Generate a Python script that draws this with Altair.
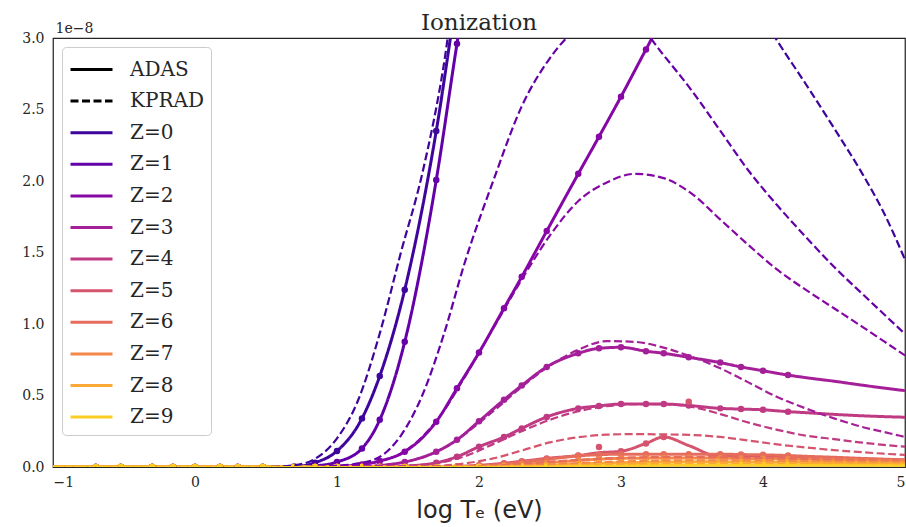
import altair as alt
import pandas as pd

# ---------------- data ----------------
Z_LABELS = ["Z=%d" % i for i in range(10)]
Z_COLORS = ["#3e049c", "#6400a7", "#8606a6", "#a51f99", "#c03a83",
            "#d5546e", "#e66c5c", "#f48849", "#fca835", "#fccd25"]

# ADAS grid points, log10 Te (eV)
ADAS_X = [-0.699, -0.523, -0.301, -0.155, 0.0, 0.176, 0.301, 0.477, 0.699, 0.845,
          1.0, 1.176, 1.301, 1.477, 1.699, 1.845, 2.0, 2.176, 2.301, 2.477,
          2.699, 2.845, 3.0, 3.176, 3.301, 3.477, 3.699, 3.845, 4.0, 4.176]
ADAS_START_X = -1.0
ADAS_TAIL_X = [4.3, 4.5, 4.7, 5.0]

# ionization rate coefficient, units of 1e-8
ADAS_Y = {
    0: [0]*8 + [0.003, 0.03, 0.112, 0.34, 0.636, 1.24, 2.35, 3.3, 4.2, 5.0, 5.5, 6.0,
                6.3, 6.3, 6.2, 6.0, 5.8, 5.5, 5.0, 4.7, 4.4, 4.1],
    1: [0]*8 + [0.0005, 0.008, 0.035, 0.13, 0.33, 0.876, 2.007, 2.96, 3.9, 4.6, 5.0, 5.3,
                5.4, 5.35, 5.2, 5.0, 4.8, 4.5, 4.2, 3.95, 3.75, 3.55],
    2: [0]*9 + [0.001, 0.005, 0.018, 0.042, 0.107, 0.317, 0.55, 0.80, 1.11, 1.33, 1.65,
                2.05, 2.31, 2.59, 2.92, 3.15, 3.4, 3.6, 3.65, 3.65, 3.6],
    3: [0]*11 + [0.002, 0.01, 0.035, 0.107, 0.19, 0.32, 0.47, 0.57, 0.70,
                 0.795, 0.83, 0.837, 0.81, 0.795, 0.767, 0.73, 0.70, 0.673, 0.643],
    4: [0]*12 + [0.001, 0.006, 0.03, 0.072, 0.142, 0.21, 0.27, 0.35,
                 0.41, 0.427, 0.44, 0.44, 0.44, 0.43, 0.41, 0.405, 0.40, 0.387],
    5: [0]*14 + [0.001, 0.004, 0.012, 0.026, 0.04, 0.06,
                 0.08, 0.10, 0.11, 0.165, 0.21, 0.15, 0.072, 0.075, 0.074, 0.07],
    6: [0]*15 + [0.002, 0.008, 0.02, 0.035, 0.054,
                 0.078, 0.086, 0.09, 0.09, 0.09, 0.09, 0.09, 0.087, 0.085, 0.08],
    7: [0]*16 + [0.003, 0.01, 0.018, 0.03,
                 0.045, 0.055, 0.06, 0.062, 0.063, 0.063, 0.062, 0.06, 0.058, 0.056],
    8: [0]*17 + [0.003, 0.006, 0.012,
                 0.02, 0.026, 0.03, 0.033, 0.035, 0.036, 0.036, 0.035, 0.034, 0.033],
    9: [0]*19 + [0.002,
                 0.005, 0.008, 0.01, 0.012, 0.013, 0.014, 0.014, 0.014, 0.014, 0.014],
}
ADAS_TAIL_Y = {
    0: [3.9, 3.7, 3.5, 3.3],
    1: [3.45, 3.35, 3.25, 3.15],
    2: [3.55, 3.45, 3.35, 3.2],
    3: [0.625, 0.60, 0.572, 0.534],
    4: [0.38, 0.368, 0.358, 0.348],
    5: [0.066, 0.061, 0.056, 0.049],
    6: [0.075, 0.068, 0.06, 0.05],
    7: [0.054, 0.05, 0.047, 0.043],
    8: [0.032, 0.031, 0.03, 0.028],
    9: [0.013, 0.013, 0.012, 0.012],
}
# ADAS points that sit off their curve (Z, x, y)
ADAS_POINT_OVERRIDES = [(5, 2.845, 0.14), (5, 3.477, 0.457)]

# KPRAD curve
KPRAD_X = [-1.0, 0.5, 0.7, 0.85, 1.0, 1.15, 1.3, 1.45, 1.6, 1.75, 1.9, 2.1, 2.3, 2.5,
           2.7, 2.9, 3.1, 3.3, 3.5, 3.7, 3.9, 4.1, 4.3, 4.5, 4.7, 4.85, 5.0]
KPRAD_Y = {
    0: [0, 0, 0.012, 0.06, 0.2, 0.47, 0.93, 1.5, 2.05, 2.8, 3.9, 4.5, 4.8, 4.9,
        4.9, 4.8, 4.6, 4.3, 3.95, 3.6, 3.3, 2.98, 2.68, 2.37, 2.05, 1.78, 1.45],
    1: [0, 0, 0, 0.002, 0.008, 0.025, 0.07, 0.22, 0.50, 0.92, 1.43, 2.0, 2.52, 2.86,
        3.08, 3.2, 3.12, 2.88, 2.63, 2.35, 2.07, 1.83, 1.61, 1.40, 1.21, 1.07, 0.93],
    2: [0, 0, 0, 0, 0.004, 0.014, 0.04, 0.095, 0.21, 0.39, 0.63, 0.97, 1.31, 1.62,
        1.86, 1.99, 2.05, 2.02, 1.91, 1.73, 1.55, 1.38, 1.24, 1.11, 0.98, 0.88, 0.78],
    3: [0, 0, 0, 0, 0, 0.003, 0.01, 0.03, 0.065, 0.13, 0.23, 0.39, 0.56, 0.71,
        0.82, 0.88, 0.875, 0.835, 0.77, 0.69, 0.59, 0.49, 0.41, 0.34, 0.28, 0.245, 0.21],
    4: [0, 0, 0, 0, 0, 0, 0.002, 0.006, 0.016, 0.035, 0.075, 0.16, 0.25, 0.33,
        0.39, 0.425, 0.44, 0.44, 0.42, 0.37, 0.31, 0.26, 0.22, 0.195, 0.17, 0.155, 0.142],
    5: [0, 0, 0, 0, 0, 0, 0, 0.001, 0.004, 0.01, 0.025, 0.06, 0.115, 0.172,
        0.208, 0.226, 0.23, 0.228, 0.224, 0.21, 0.185, 0.158, 0.137, 0.118, 0.103, 0.093, 0.084],
    6: [0]*9 + [0.001, 0.003, 0.01, 0.022, 0.037, 0.05, 0.06, 0.067, 0.07, 0.07,
                0.068, 0.064, 0.06, 0.056, 0.052, 0.049, 0.047, 0.045],
    7: [0]*10 + [0.001, 0.004, 0.01, 0.018, 0.027, 0.035, 0.041, 0.045, 0.047,
                 0.047, 0.046, 0.044, 0.042, 0.04, 0.038, 0.037, 0.036],
    8: [0]*11 + [0.001, 0.004, 0.008, 0.013, 0.018, 0.022, 0.025, 0.027,
                 0.028, 0.028, 0.027, 0.026, 0.025, 0.024, 0.024, 0.023],
    9: [0]*12 + [0.001, 0.002, 0.004, 0.006, 0.008, 0.009, 0.01,
                 0.011, 0.011, 0.011, 0.011, 0.011, 0.011, 0.01, 0.01],
}

LEGEND_KEYS = ["ADAS", "KPRAD"] + Z_LABELS
LEGEND_COLORS = ["black", "black"] + Z_COLORS
LEGEND_DASHES = [[1, 0], [8, 3.5]] + [[1, 0]] * 10

# ---------------- tables ----------------
adas_line_rows, adas_pt_rows, kprad_rows = [], [], []
for z in range(10):
    lab = Z_LABELS[z]
    xs = [ADAS_START_X] + ADAS_X + ADAS_TAIL_X
    ys = [0.0] + ADAS_Y[z] + ADAS_TAIL_Y[z]
    for i, (xv, yv) in enumerate(zip(xs, ys)):
        adas_line_rows.append({"x": xv, "y": yv, "z": lab, "zi": z, "type": "ADAS", "o": i})
    for xv, yv in zip(ADAS_X, ADAS_Y[z]):
        for (oz, ox, oy) in ADAS_POINT_OVERRIDES:
            if oz == z and ox == xv:
                yv = oy
        adas_pt_rows.append({"x": xv, "y": yv, "z": lab, "zi": z})
    for i, (xv, yv) in enumerate(zip(KPRAD_X, KPRAD_Y[z])):
        kprad_rows.append({"x": xv, "y": yv, "z": lab, "zi": z, "type": "KPRAD", "o": i})

adas_line_df = pd.DataFrame(adas_line_rows)
adas_pt_df = pd.DataFrame(adas_pt_rows)
kprad_df = pd.DataFrame(kprad_rows)

# ---------------- encodings ----------------
TXT = "#262626"
legend = alt.Legend(
    title=None, orient="top-left", offset=9,
    symbolType="M-1,0H2", symbolSize=784, symbolStrokeWidth=3,
    labelFont="DejaVu Serif", labelFontSize=20, labelColor=TXT, labelOffset=30,
    labelLimit=300,
    fillColor="white", strokeColor="#cccccc", cornerRadius=4, padding=7, rowPadding=5.6,
)

x_enc = alt.X("x:Q",
              scale=alt.Scale(domain=[-1, 5], nice=False, zero=False),
              axis=alt.Axis(values=[-1, 0, 1, 2, 3, 4, 5], format="d",
                            title="log  Tₑ (eV)", titleFont="DejaVu Sans",
                            titleFontSize=24, titleFontWeight="normal", titleColor=TXT,
                            titlePadding=9,
                            labelFont="DejaVu Serif", labelFontSize=14, labelColor=TXT,
                            labelPadding=8))
y_enc = alt.Y("y:Q",
              scale=alt.Scale(domain=[0, 3], nice=False, zero=False),
              axis=alt.Axis(values=[0, 0.5, 1.0, 1.5, 2.0, 2.5, 3.0], format=".1f",
                            title="1e−8", titleAngle=0, titleAlign="left",
                            titleBaseline="bottom", titleX=2, titleY=-3,
                            titleFont="DejaVu Serif", titleFontSize=14,
                            titleFontWeight="normal", titleColor=TXT,
                            labelFont="DejaVu Serif", labelFontSize=14, labelColor=TXT,
                            labelPadding=9))
color_scale = alt.Scale(domain=LEGEND_KEYS, range=LEGEND_COLORS)
dash_scale = alt.Scale(domain=LEGEND_KEYS, range=LEGEND_DASHES)

adas_lines = alt.Chart(adas_line_df).mark_line(
    strokeWidth=3, clip=True, interpolate="monotone"
).encode(
    x=x_enc, y=y_enc,
    color=alt.Color("z:N", scale=color_scale, legend=legend),
    strokeDash=alt.StrokeDash("type:N", scale=dash_scale, legend=legend),
    detail="zi:N",
    order="o:Q",
)

adas_pts = alt.Chart(adas_pt_df).mark_circle(size=42, opacity=1, clip=True).encode(
    x=x_enc, y=y_enc,
    color=alt.Color("z:N", scale=color_scale, legend=None),
)

kprad_lines = alt.Chart(kprad_df).mark_line(
    strokeWidth=2.2, clip=True, interpolate="monotone"
).encode(
    x=x_enc, y=y_enc,
    color=alt.Color("z:N", scale=color_scale, legend=legend),
    strokeDash=alt.StrokeDash("type:N", scale=dash_scale, legend=legend),
    detail="zi:N",
    order="o:Q",
)

chart = alt.layer(adas_lines, adas_pts, kprad_lines).properties(
    width=852, height=429,
    padding={"left": 53, "top": 38, "right": 1, "bottom": 60},
    autosize=alt.AutoSizeParams(type="none"),
    background="white",
    title=alt.Title("Ionization", font="DejaVu Serif", fontSize=23,
                    fontWeight="normal", color=TXT, offset=-14),
).configure_view(
    stroke=TXT, strokeWidth=1.25
).configure_axis(
    grid=False, ticks=False, domain=False
)

chart.save("out.html", embed_options={"renderer": "svg", "actions": False})
